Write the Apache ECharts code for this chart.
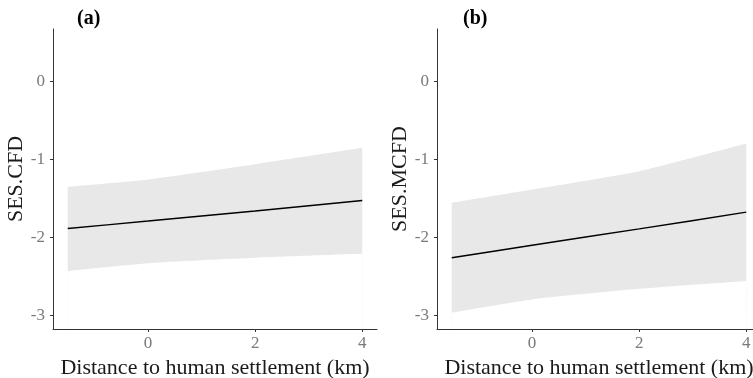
<!DOCTYPE html>
<html><head><meta charset="utf-8">
<script src="https://cdn.jsdelivr.net/npm/echarts@6/dist/echarts.min.js"></script>
<style>html,body{margin:0;padding:0;background:#fff}#c{width:753px;height:378px}</style>
</head><body><div id="c"></div>
<script>
var xValues = [-1.5, 0, 2, 4];
var fitA = [-1.885, -1.79, -1.66, -1.525];
var lowerA = [-2.43, -2.33, -2.26, -2.21];
var upperA = [-1.35, -1.255, -1.06, -0.85];
var fitB = [-2.26, -2.10, -1.89, -1.675];
var lowerB = [-2.965, -2.795, -2.66, -2.56];
var upperB = [-1.555, -1.385, -1.15, -0.795];
var xTicks = [0, 2, 4];
var yTicks = [-3, -2, -1, 0];
var panelTitles = ['(a)', '(b)'];
var yTitles = ['SES.CFD', 'SES.MCFD'];
var xTitle = 'Distance to human settlement (km)';

var FONT = '"Liberation Serif", "Times New Roman", serif';
var chart = echarts.init(document.getElementById('c'));
function pairs(ys){ return xValues.map(function(x,i){return [x, ys[i]];}); }

var grids = [
  {left: 53, top: 29, width: 324, height: 300, outerBoundsMode: 'none', containLabel: false},
  {left: 437, top: 29, width: 324, height: 300, outerBoundsMode: 'none', containLabel: false}
];
var xAxes = [], yAxes = [], series = [], titles = [];
[[fitA, lowerA, upperA], [fitB, lowerB, upperB]].forEach(function(d, k){
  xAxes.push({
    type: 'value', gridIndex: k, min: -1.775, max: 4.275, z: 5,
    name: xTitle, nameLocation: 'middle', nameGap: 25,
    nameTextStyle: {fontFamily: FONT, fontSize: 22, color: '#1a1a1a'},
    axisLine: {show: true, onZero: false, lineStyle: {color: '#333', width: 1}},
    axisTick: {show: true, length: 3, customValues: xTicks, lineStyle: {color: '#333'}},
    axisLabel: {customValues: xTicks, fontFamily: FONT, fontSize: 17, color: '#7a7a7a', margin: 6},
    splitLine: {show: false}
  });
  yAxes.push({
    type: 'value', gridIndex: k, min: -3.175, max: 0.675, z: 5,
    name: yTitles[k], nameLocation: 'middle', nameGap: 26,
    nameTextStyle: {fontFamily: FONT, fontSize: 22, color: '#1a1a1a'},
    axisLine: {show: true, onZero: false, lineStyle: {color: '#333', width: 1}},
    axisTick: {show: true, length: 3, customValues: yTicks, lineStyle: {color: '#333'}},
    axisLabel: {customValues: yTicks, fontFamily: FONT, fontSize: 17, color: '#7a7a7a', margin: 8},
    splitLine: {show: false}
  });
  // upper bound: grey fill down to the axis minimum
  series.push({
    type: 'line', xAxisIndex: k, yAxisIndex: k, data: pairs(d[2]),
    symbol: 'none', smooth: 0.2, lineStyle: {width: 0, opacity: 0},
    areaStyle: {color: '#e8e8e8', opacity: 1, origin: 'start'}, silent: true, z: 0
  });
  // lower bound: white fill down to the axis minimum, leaving the band
  series.push({
    type: 'line', xAxisIndex: k, yAxisIndex: k, data: pairs(d[1]),
    symbol: 'none', smooth: 0.2, lineStyle: {width: 0, opacity: 0},
    areaStyle: {color: '#ffffff', opacity: 1, origin: 'start'}, silent: true, z: 1
  });
  series.push({
    type: 'line', xAxisIndex: k, yAxisIndex: k, data: pairs(d[0]),
    symbol: 'none', smooth: 0.2, lineStyle: {color: '#000', width: 1.5}, z: 3
  });
  titles.push({
    text: panelTitles[k], left: k === 0 ? 72 : 458, top: 4,
    textStyle: {fontFamily: FONT, fontSize: 20, fontWeight: 'bold', color: '#000'}
  });
});

chart.setOption({
  animation: false,
  title: titles,
  grid: grids,
  xAxis: xAxes,
  yAxis: yAxes,
  series: series
});
</script></body></html>
